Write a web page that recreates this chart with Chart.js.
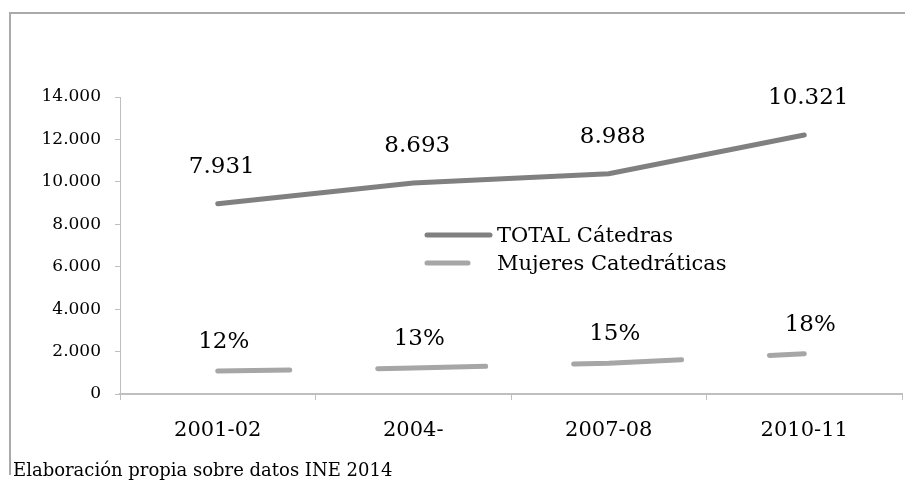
<!DOCTYPE html>
<html>
<head>
<meta charset="utf-8">
<script src="https://cdn.jsdelivr.net/npm/chart.js@4"></script>
<style>
  html, body { margin: 0; padding: 0; background: #fff; }
  #wrap { width: 905px; height: 482px; position: relative; }
</style>
</head>
<body>
<div id="wrap"><canvas id="chart"></canvas></div>
<script>
// datos
const years = ['2001-02', '2004-', '2007-08', '2010-11'];
const totalCatedras = [8970, 9950, 10380, 12210];
const mujeresCatedraticas = [1080, 1220, 1450, 1900];
const totalLabels = ['7.931', '8.693', '8.988', '10.321'];
const pctLabels = ['12%', '13%', '15%', '18%'];
const yTicks = [0, 2000, 4000, 6000, 8000, 10000, 12000, 14000];

const serif = '"DejaVu Serif", "Liberation Serif", serif';

function miles(v) {
    return v.toString().replace(/\B(?=(\d{3})+(?!\d))/g, '.');
}

// etiquetas encima de los puntos
const labelsPlugin = {
    id: 'pointLabels',
    afterDatasetsDraw(chart) {
        const ctx = chart.ctx;
        ctx.save();
        ctx.fillStyle = '#000';
        ctx.textAlign = 'center';
        ctx.textBaseline = 'middle';
        chart.data.datasets.forEach((ds, i) => {
            const meta = chart.getDatasetMeta(i);
            ctx.font = ds.labelFont;
            meta.data.forEach((pt, j) => {
                ctx.fillText(ds.pointText[j], pt.x + ds.labelDx, pt.y + ds.labelDy);
            });
        });
        ctx.restore();
    }
};

// leyenda dentro del area, marco y fuente
const extrasPlugin = {
    id: 'extras',
    afterDraw(chart) {
        const ctx = chart.ctx;
        ctx.save();
        // marco
        ctx.strokeStyle = '#aaaaaa';
        ctx.lineWidth = 2;
        ctx.beginPath();
        ctx.moveTo(10, 475);
        ctx.lineTo(10, 13);
        ctx.lineTo(905, 13);
        ctx.stroke();

        // leyenda
        let y = 235;
        chart.data.datasets.forEach(ds => {
            ctx.strokeStyle = ds.borderColor;
            ctx.lineWidth = ds.borderWidth;
            ctx.lineCap = 'round';
            ctx.beginPath();
            ctx.moveTo(427, y);
            ctx.lineTo(ds.borderDash ? 468 : 490, y);
            ctx.stroke();
            ctx.fillStyle = '#000';
            ctx.font = '21px ' + serif;
            ctx.textBaseline = 'middle';
            ctx.textAlign = 'left';
            ctx.fillText(ds.label, 497, y + 2);
            y += 28;
        });

        // fuente
        ctx.font = '18px ' + serif;
        ctx.textBaseline = 'alphabetic';
        ctx.fillText('Elaboración propia sobre datos INE 2014', 13, 476);
        ctx.restore();
    }
};

new Chart(document.getElementById('chart'), {
    type: 'line',
    data: {
        labels: years,
        datasets: [{
            label: 'TOTAL Cátedras',
            data: totalCatedras,
            borderColor: '#808080',
            borderWidth: 5,
            borderCapStyle: 'round',
            pointRadius: 0,
            tension: 0,
            pointText: totalLabels,
            labelFont: '23px ' + serif,
            labelDx: 4,
            labelDy: -37
        }, {
            label: 'Mujeres Catedráticas',
            data: mujeresCatedraticas,
            borderColor: '#a6a6a6',
            borderWidth: 5,
            borderCapStyle: 'round',
            borderDash: [108, 88],
            borderDashOffset: 36,
            pointRadius: 0,
            tension: 0,
            pointText: pctLabels,
            labelFont: '23px ' + serif,
            labelDx: 6,
            labelDy: -29
        }]
    },
    options: {
        responsive: true,
        maintainAspectRatio: false,
        animation: false,
        layout: { padding: { top: 97, right: 3, left: 0, bottom: 0 } },
        plugins: {
            legend: { display: false },
            tooltip: { enabled: false }
        },
        scales: {
            x: {
                offset: true,
                grid: { display: true, drawOnChartArea: false, offset: true, tickLength: 6, color: '#bfbfbf' },
                border: { display: true, color: '#bfbfbf', width: 2 },
                ticks: { color: '#000', font: { family: serif, size: 21 }, padding: 18, maxRotation: 0 },
                afterFit(scale) { scale.height = 88; }
            },
            y: {
                min: 0,
                max: 14000,
                afterBuildTicks(scale) { scale.ticks = yTicks.map(v => ({ value: v })); },
                grid: { display: true, drawOnChartArea: false, tickLength: 5, color: '#bfbfbf' },
                border: { display: true, color: '#bfbfbf', width: 1 },
                ticks: { color: '#000', font: { family: serif, size: 17 }, padding: 14, callback: v => miles(v) },
                afterFit(scale) { scale.width = 120; }
            }
        }
    },
    plugins: [labelsPlugin, extrasPlugin]
});
</script>
</body>
</html>
